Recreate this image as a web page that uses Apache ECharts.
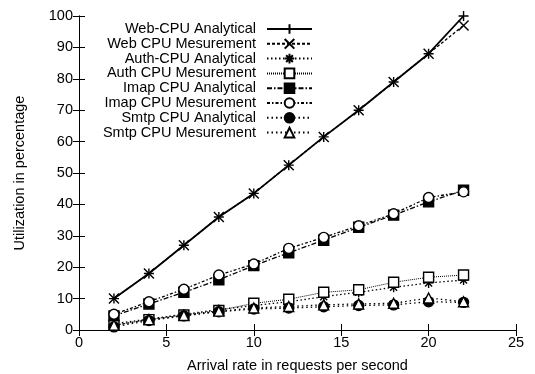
<!DOCTYPE html>
<html>
<head>
<meta charset="utf-8">
<script src="https://cdn.jsdelivr.net/npm/echarts@6/dist/echarts.min.js"></script>
<style>
  html, body { margin: 0; padding: 0; background: #fff; }
  #chart { width: 535px; height: 374px; }
</style>
</head>
<body>
<div id="chart"></div>
<script>
// arrival rate (requests per second)
const rates = [2, 4, 6, 8, 10, 12, 14, 16, 18, 20, 22];

// utilization in percentage
const webAnalytical = [10, 18, 27, 36, 43.5, 52.5, 61.5, 70, 79, 88, 100];
const webMeasurement = [10, 18, 27, 36, 43.5, 52.5, 61.5, 70, 79, 88, 97];
const authAnalytical = [2, 3.5, 5, 6.5, 7.8, 9, 10.6, 12, 13.6, 15, 15.9];
const authMeasurement = [1.5, 3.3, 4.8, 6.2, 8.5, 9.8, 12, 12.8, 15.2, 16.8, 17.5];
const imapAnalytical = [4.5, 8.3, 12, 16, 20.5, 24.6, 28.6, 32.7, 36.6, 40.8, 44.5];
const imapMeasurement = [5, 9, 13, 17.5, 21, 26, 29.5, 33.2, 37, 42.2, 44];
const smtpAnalytical = [1, 3, 4.5, 5.8, 6.7, 7, 7.4, 7.8, 8, 9, 8.8];
const smtpMeasurement = [1.5, 3.3, 4.6, 6, 7, 7.5, 8, 8.3, 8.5, 10.2, 9];

const xTicks = [0, 25, 5];
const yTicks = [0, 100, 10];

const FONT = 'Liberation Sans';
const FSIZE = 14.5;

const PLUS = 'path://M5 0L5 10M0 5L10 5';
const CROSS = 'path://M0 0L10 10M10 0L0 10';
const STAR = 'path://M5 0L5 10M0 5L10 5M1.5 1.5L8.5 8.5M8.5 1.5L1.5 8.5';

function pairs(ys) {
  return rates.map((x, i) => [x, ys[i]]);
}

function makeSeries(name, ys, symbol, filled, dash, width) {
  return {
    name: name,
    type: 'line',
    data: pairs(ys),
    symbol: symbol,
    symbolSize: 10,
    showAllSymbol: true,
    lineStyle: { color: '#000', width: width || 1.3, type: dash },
    itemStyle: {
      color: filled ? '#000' : '#fff',
      borderColor: '#000',
      borderWidth: 1.4
    },
    emphasis: { disabled: true }
  };
}

const series = [
  makeSeries('Web-CPU Analytical', webAnalytical, PLUS, false, 'solid', 1.8),
  makeSeries('Web CPU Mesurement', webMeasurement, CROSS, false, [3, 2]),
  makeSeries('Auth-CPU Analytical', authAnalytical, STAR, false, [1.5, 2.5]),
  makeSeries('Auth CPU Mesurement', authMeasurement, 'rect', false, [1, 1], 1),
  makeSeries('Imap CPU Analytical', imapAnalytical, 'rect', true, [5, 2, 1.5, 2]),
  makeSeries('Imap CPU Mesurement', imapMeasurement, 'circle', false, [3, 2, 1.5, 2]),
  makeSeries('Smtp CPU Analytical', smtpAnalytical, 'circle', true, [1.5, 3]),
  makeSeries('Smtp CPU Mesurement', smtpMeasurement, 'triangle', false, [1.5, 3])
];

const axisText = { color: '#000', fontFamily: FONT, fontSize: FSIZE };

const chart = echarts.init(document.getElementById('chart'), null, { renderer: 'canvas' });

chart.setOption({
  animation: false,
  backgroundColor: '#fff',
  grid: {
    left: 79, right: 19, top: 16, bottom: 44,
    containLabel: false,
    outerBoundsMode: 'none'
  },
  legend: {
    orient: 'vertical',
    align: 'right',
    right: 222,
    top: 21.5,
    padding: 0,
    itemWidth: 45,
    itemHeight: 12,
    itemGap: -0.2,
    textStyle: {
      color: '#000', fontFamily: FONT, fontSize: FSIZE,
      lineHeight: 14, padding: [0, 6, 0, 0]
    },
    data: series.map(s => s.name)
  },
  xAxis: [
    {
      type: 'value',
      min: xTicks[0], max: xTicks[1], interval: xTicks[2],
      name: 'Arrival rate in requests per second',
      nameLocation: 'middle',
      nameGap: 28,
      nameTextStyle: axisText,
      axisLine: { show: true, lineStyle: { color: '#000', width: 1 } },
      axisTick: { show: true, inside: true, length: 6, lineStyle: { color: '#000' } },
      axisLabel: Object.assign({ margin: 5 }, axisText),
      splitLine: { show: false }
    },
    {
      type: 'value',
      position: 'top',
      min: xTicks[0], max: xTicks[1], interval: xTicks[2],
      axisLine: { show: true, lineStyle: { color: '#000', width: 1 } },
      axisTick: { show: true, inside: true, length: 6, lineStyle: { color: '#000' } },
      axisLabel: { show: false },
      splitLine: { show: false }
    }
  ],
  yAxis: [
    {
      type: 'value',
      min: yTicks[0], max: yTicks[1], interval: yTicks[2],
      name: 'Utilization in percentage',
      nameLocation: 'middle',
      nameGap: 52,
      nameTextStyle: axisText,
      axisLine: { show: true, lineStyle: { color: '#000', width: 1 } },
      axisTick: { show: true, inside: true, length: 6, lineStyle: { color: '#000' } },
      axisLabel: Object.assign({ margin: 6 }, axisText),
      splitLine: { show: false }
    },
    {
      type: 'value',
      position: 'right',
      min: yTicks[0], max: yTicks[1], interval: yTicks[2],
      axisLine: { show: true, lineStyle: { color: '#000', width: 1 } },
      axisTick: { show: true, inside: true, length: 6, lineStyle: { color: '#000' } },
      axisLabel: { show: false },
      splitLine: { show: false }
    }
  ],
  series: series
});
</script>
</body>
</html>
